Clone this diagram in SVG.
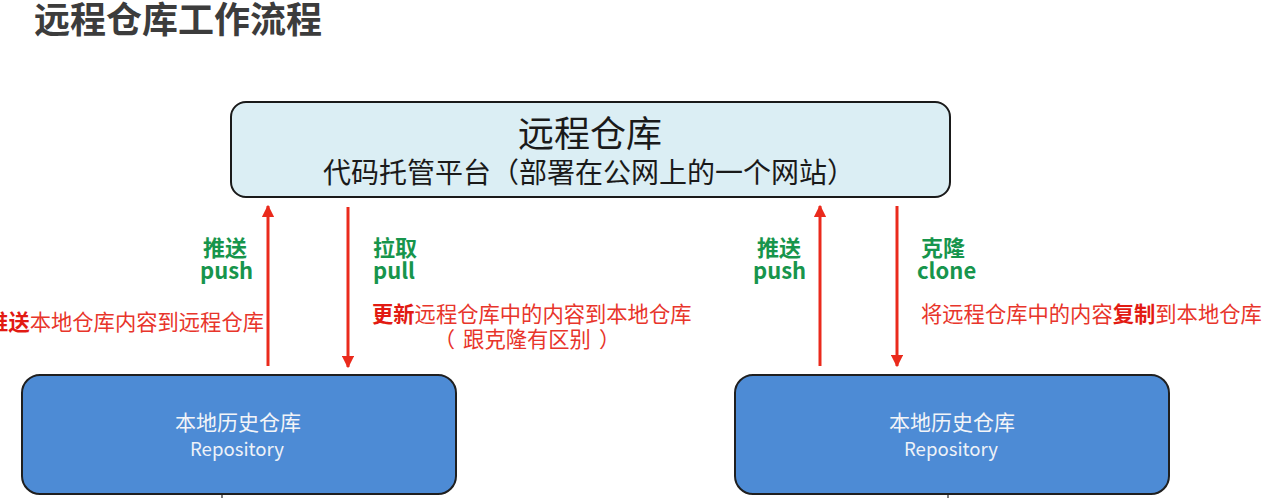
<svg xmlns="http://www.w3.org/2000/svg" width="1266" height="498" viewBox="0 0 1266 498">
<defs>
<style>
text{font-family:"Noto Sans CJK SC","Noto Sans",sans-serif;}
.title{font-size:36px;font-weight:bold;fill:#3c3c3c;}
.remote{fill:#dbeef4;stroke:#1a1a1a;stroke-width:2;}
.local{fill:#4d8bd5;stroke:#1f1f1f;stroke-width:2;}
.big{font-size:36px;fill:#1a1a1a;text-anchor:middle;}
.sub{font-size:28px;fill:#1a1a1a;text-anchor:middle;}
.ltext{font-size:21px;fill:#f2f4f8;text-anchor:middle;}
.lsub{font-size:18.6px;fill:#eef2f8;text-anchor:middle;}
.green{font-size:22px;font-weight:bold;fill:#17954c;}
.red{font-size:21.3px;fill:#e8352b;}
.redb{font-weight:bold;fill:#e21a12;}
.arrow{stroke:#ea2a1c;stroke-width:3;fill:none;}
</style>
<marker id="ah" viewBox="0 0 10 10" refX="9" refY="5" markerWidth="4.2" markerHeight="4.2" orient="auto" markerUnits="strokeWidth">
<path d="M0,0 L10,5 L0,10 z" fill="#ea2a1c"/>
</marker>
</defs>
<rect width="1266" height="498" fill="#ffffff"/>
<text class="title" x="34" y="33">远程仓库工作流程</text>

<g id="remote">
<rect class="remote" x="231" y="102" width="719" height="95" rx="15"/>
<text class="big" x="590" y="147">远程仓库</text>
<text class="sub" x="589" y="183">代码托管平台（部署在公网上的一个网站）</text>
</g>

<g id="local-left">
<rect class="local" x="22" y="375" width="434" height="119" rx="18"/>
<text class="ltext" x="238" y="430">本地历史仓库</text>
<text class="lsub" x="237" y="456">Repository</text>
</g>

<g id="local-right">
<rect class="local" x="735" y="375" width="434" height="119" rx="18"/>
<text class="ltext" x="952" y="430">本地历史仓库</text>
<text class="lsub" x="951" y="456">Repository</text>
</g>

<g id="connectors">
<line class="arrow" x1="268" y1="366" x2="268" y2="206" marker-end="url(#ah)"/>
<line class="arrow" x1="348" y1="207" x2="348" y2="367" marker-end="url(#ah)"/>
<line class="arrow" x1="820" y1="366" x2="820" y2="206" marker-end="url(#ah)"/>
<line class="arrow" x1="897" y1="206" x2="897" y2="366" marker-end="url(#ah)"/>
<line x1="222" y1="495" x2="222" y2="498" stroke="#555" stroke-width="1.5"/>
<line x1="948" y1="495" x2="948" y2="498" stroke="#555" stroke-width="1.5"/>
</g>

<g id="labels">
<text class="green" x="203" y="256">推送</text>
<text class="green" x="200" y="279">push</text>
<text class="green" x="373" y="256">拉取</text>
<text class="green" x="373" y="279">pull</text>
<text class="green" x="757" y="256">推送</text>
<text class="green" x="753" y="279">push</text>
<text class="green" x="921" y="256">克隆</text>
<text class="green" x="917" y="279">clone</text>

<text class="red" x="264" y="330" text-anchor="end"><tspan class="redb">推送</tspan>本地仓库内容到远程仓库</text>
<text class="red" x="372" y="322"><tspan class="redb">更新</tspan>远程仓库中的内容到本地仓库</text>
<text class="red" x="527" y="347" text-anchor="middle">（<tspan dx="8">跟克隆有区别</tspan><tspan dx="8">）</tspan></text>
<text class="red" x="921" y="322">将远程仓库中的内容<tspan class="redb">复制</tspan>到本地仓库</text>
</g>
</svg>
